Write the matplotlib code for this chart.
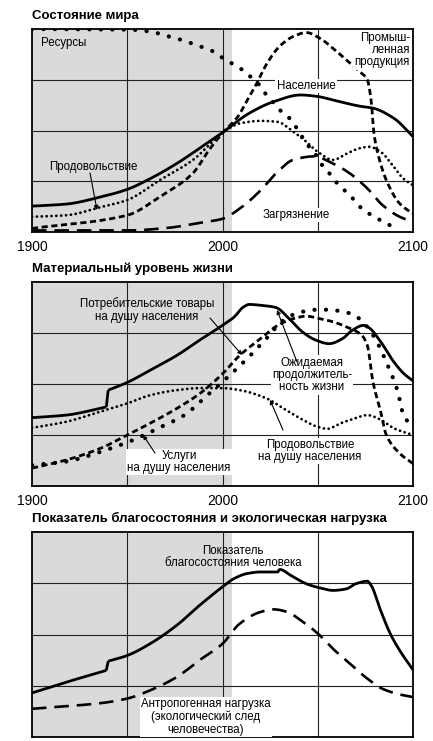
import matplotlib
matplotlib.use("Agg")
import matplotlib.pyplot as plt
import numpy as np

plt.rcParams['font.family'] = ['Liberation Sans', 'DejaVu Sans']

# ---------- Panel 1: State of the world ----------
pop_x = [1900, 1918, 1936, 1950, 1962, 1976, 1988, 2000, 2014, 2027, 2041, 2050, 2058, 2072, 2079, 2090, 2100]
pop_y = [0.51, 0.55, 0.69, 0.84, 1.05, 1.35, 1.65, 1.96, 2.34, 2.57, 2.70, 2.67, 2.60, 2.48, 2.44, 2.24, 1.88]

res_x = [1900, 1950, 1962, 1972, 1978, 1988, 1995, 2000, 2006, 2011, 2015, 2020, 2023, 2027, 2031, 2036, 2040,
         2044, 2049, 2053, 2057, 2061, 2066, 2070, 2074, 2080, 2086, 2091]
res_y = [4.00, 3.99, 3.95, 3.85, 3.79, 3.66, 3.56, 3.43, 3.30, 3.18, 3.05, 2.87, 2.70, 2.54, 2.37, 2.21, 1.98,
         1.75, 1.52, 1.28, 1.12, 0.92, 0.76, 0.59, 0.43, 0.30, 0.16, 0.10]

ind_x = [1900, 1950, 1967, 1984.5, 1993, 2000, 2008, 2013, 2018, 2023, 2030, 2037, 2044, 2051, 2058, 2065, 2072,
         2076, 2078, 2079.5, 2082, 2086, 2093, 2100]
ind_y = [0.07, 0.33, 0.69, 1.16, 1.62, 1.95, 2.27, 2.60, 2.93, 3.30, 3.66, 3.85, 3.93, 3.82, 3.62, 3.39, 3.16,
         3.00, 2.60, 1.94, 1.48, 1.02, 0.56, 0.36]

food_x = [1900, 1918, 1936, 1950, 1967, 1984.5, 2000, 2009, 2020, 2029, 2036, 2043, 2050, 2058, 2065, 2072,
          2077, 2083, 2090, 2095, 2100]
food_y = [0.30, 0.33, 0.49, 0.63, 1.02, 1.42, 1.95, 2.14, 2.19, 2.17, 2.01, 1.81, 1.58, 1.42, 1.54, 1.65,
          1.68, 1.58, 1.28, 1.05, 0.92]

pol_x = [1900, 1950, 1971, 1988, 2000, 2009, 2020, 2029, 2037, 2048, 2058, 2067, 2076, 2084, 2093, 2100]
pol_y = [0.03, 0.03, 0.08, 0.18, 0.26, 0.46, 0.82, 1.19, 1.42, 1.49, 1.35, 1.15, 0.86, 0.53, 0.30, 0.20]

# ---------- Panel 2: Material standard of living ----------
cg_x = [1900, 1918, 1939, 1940, 1950, 1962, 1976, 1988, 2000, 2006, 2011, 2014, 2021, 2028, 2035, 2042, 2049,
        2056, 2063, 2068, 2074, 2077, 2083, 2090, 2095, 2100]
cg_y = [1.34, 1.39, 1.55, 1.88, 2.03, 2.27, 2.56, 2.86, 3.15, 3.31, 3.51, 3.56, 3.54, 3.50, 3.28, 3.02, 2.86,
        2.79, 2.89, 3.05, 3.15, 3.10, 2.83, 2.43, 2.21, 2.06]

srv_x = [1900, 1918, 1936, 1950, 1962, 1976, 1988, 2000, 2009, 2020, 2029, 2037, 2044, 2051, 2058, 2065, 2073,
         2076, 2079, 2083, 2086, 2093, 2100]
srv_y = [0.35, 0.51, 0.74, 1.00, 1.23, 1.52, 1.81, 2.20, 2.56, 2.89, 3.15, 3.28, 3.33, 3.28, 3.22, 3.12, 2.96,
         2.76, 2.04, 1.46, 1.00, 0.64, 0.44]

life_x = [1900, 1918, 1936, 1953, 1966, 1980, 1992, 2002, 2013, 2023, 2032, 2041, 2051, 2062, 2069, 2076, 2081,
          2086, 2092, 2095, 2099]
life_y = [0.41, 0.48, 0.67, 0.90, 1.13, 1.39, 1.78, 2.11, 2.50, 2.89, 3.25, 3.41, 3.46, 3.43, 3.35, 3.12, 2.83,
          2.43, 1.85, 1.39, 1.19]

fpc_x = [1900, 1918, 1936, 1950, 1962, 1976, 1988, 2000, 2009, 2023, 2032, 2041, 2050, 2055, 2062, 2069, 2076,
         2083, 2090, 2100]
fpc_y = [1.14, 1.26, 1.46, 1.62, 1.78, 1.88, 1.92, 1.92, 1.88, 1.72, 1.52, 1.32, 1.16, 1.12, 1.23, 1.32, 1.39,
         1.30, 1.13, 1.00]

# ---------- Panel 3: Welfare and ecological footprint ----------
hw_x = [1900, 1918, 1939, 1940, 1950, 1962, 1976, 1988, 2000, 2006, 2013, 2020, 2029, 2030, 2036, 2044, 2051,
        2058, 2065, 2070, 2076, 2078, 2083, 2088, 2093, 2100]
hw_y = [0.86, 1.07, 1.30, 1.48, 1.59, 1.82, 2.18, 2.57, 2.93, 3.09, 3.19, 3.22, 3.22, 3.27, 3.15, 2.99, 2.91,
        2.86, 2.89, 2.99, 3.04, 2.96, 2.47, 2.02, 1.69, 1.31]

ef_x = [1900, 1918, 1936, 1950, 1962, 1976, 1988, 2000, 2009, 2020, 2027, 2034, 2041, 2050, 2058, 2067, 2076,
        2084, 2093, 2100]
ef_y = [0.55, 0.60, 0.66, 0.75, 0.91, 1.17, 1.50, 1.82, 2.21, 2.44, 2.49, 2.44, 2.28, 2.02, 1.72, 1.43, 1.14,
        0.94, 0.83, 0.78]

titles = ["Состояние мира", "Материальный уровень жизни",
          "Показатель благосостояния и экологическая нагрузка"]
tick_years = [1900, 2000, 2100]
tick_labels = ["1900", "2000", "2100"]

W, H = 433, 741
fig = plt.figure(figsize=(W / 100, H / 100), dpi=100)

def mk_axes(top, bottom):
    return fig.add_axes([32 / W, 1 - bottom / H, (413 - 32) / W, (bottom - top) / H])

axs = [mk_axes(29, 232), mk_axes(282, 486), mk_axes(532, 737)]

def smooth(x, y, n=500):
    x = np.asarray(x, float); y = np.asarray(y, float)
    xs = np.linspace(x[0], x[-1], n)
    h = np.diff(x); d = np.diff(y) / h
    m = np.zeros_like(y)
    m[0] = d[0]; m[-1] = d[-1]
    for i in range(1, len(y) - 1):
        if d[i - 1] * d[i] <= 0:
            m[i] = 0
        else:
            w1 = 2 * h[i] + h[i - 1]; w2 = h[i] + 2 * h[i - 1]
            m[i] = (w1 + w2) / (w1 / d[i - 1] + w2 / d[i])
    idx = np.clip(np.searchsorted(x, xs) - 1, 0, len(x) - 2)
    t = (xs - x[idx]) / h[idx]
    h00 = 2 * t**3 - 3 * t**2 + 1; h10 = t**3 - 2 * t**2 + t
    h01 = -2 * t**3 + 3 * t**2; h11 = t**3 - t**2
    ys = h00 * y[idx] + h10 * h[idx] * m[idx] + h01 * y[idx + 1] + h11 * h[idx] * m[idx + 1]
    return xs, ys

for i, ax in enumerate(axs):
    ax.set_xlim(1900, 2100)
    ax.set_ylim(0, 4)
    ax.axvspan(1900, 2005, color='#dadada', zorder=0, lw=0)
    for xv in [1950, 2000, 2050]:
        ax.axvline(xv, color='#222222', lw=0.8, zorder=1)
    for yv in [1, 2, 3]:
        ax.axhline(yv, color='#222222', lw=0.8, zorder=1)
    for s in ax.spines.values():
        s.set_linewidth(1.3)
        s.set_color('black')
    ax.set_yticks([])
    if i < 2:
        ax.set_xticks(tick_years)
        ax.set_xticklabels(tick_labels, fontsize=10)
        ax.tick_params(axis='x', length=0, pad=6)
    else:
        ax.set_xticks([])
    ax.text(0, 1.0 + 13 / 203, titles[i], transform=ax.transAxes, fontsize=9.5,
            fontweight='bold', ha='left', va='center')

SOLID = dict(color='black', lw=2.0, ls='-', solid_capstyle='butt')
SHORTDASH = dict(color='black', lw=2.0, ls=(0, (2.2, 1.3)))
LONGDASH = dict(color='black', lw=1.9, ls=(0, (5.5, 3.0)))
BIGDOT = dict(color='black', lw=3.0, ls=(0, (0.05, 2.7)), dash_capstyle='round')
SMALLDOT = dict(color='black', lw=2.0, ls=(0, (0.05, 1.7)), dash_capstyle='round')

def plot(ax, x, y, style):
    xs, ys = smooth(x, y)
    ax.plot(xs, ys, zorder=3, **style)

def plot_step(ax, x, y, style, jump):
    x = list(x); y = list(y)
    k = x.index(jump)
    plot(ax, x[:k], y[:k], style)
    ax.plot([x[k - 1], x[k]], [y[k - 1], y[k]], zorder=3, **style)
    plot(ax, x[k:], y[k:], style)

ax = axs[0]
plot(ax, res_x, res_y, BIGDOT)
plot(ax, ind_x, ind_y, SHORTDASH)
plot(ax, food_x, food_y, SMALLDOT)
plot(ax, pol_x, pol_y, LONGDASH)
plot(ax, pop_x, pop_y, SOLID)

ax = axs[1]
plot_step(ax, cg_x, cg_y, SOLID, 1940)
plot(ax, srv_x, srv_y, SHORTDASH)
plot(ax, life_x, life_y, BIGDOT)
plot(ax, fpc_x, fpc_y, SMALLDOT)

ax = axs[2]
plot_step(ax, hw_x, hw_y, SOLID, 1940)
plot(ax, ef_x, ef_y, LONGDASH)

FS = 8.3
BOX = dict(boxstyle='square,pad=0.1', fc='white', ec='none')
ARW = dict(arrowstyle='-|>', lw=0.8, color='black', mutation_scale=6, shrinkA=0, shrinkB=0)

def px2d(panel, x, y):
    tops = [29, 282, 532]; bots = [232, 486, 737]
    yr = 1900 + (x - 32) / (381 / 200)
    v = (bots[panel] - y) / ((bots[panel] - tops[panel]) / 4)
    return yr, v

def label(panel, x, y, txt, ha='center', box=True):
    X, Y = px2d(panel, x, y)
    axs[panel].text(X, Y, txt, fontsize=FS, ha=ha, va='center', zorder=5,
                    linespacing=1.05, multialignment='center' if ha == 'center' else ha,
                    bbox=BOX if box else None)

def arrow(panel, x0, y0, x1, y1):
    a = px2d(panel, x0, y0); b = px2d(panel, x1, y1)
    axs[panel].annotate('', xy=b, xytext=a, arrowprops=ARW, zorder=6)

# Panel 1 labels
label(0, 41, 43, "Ресурсы", ha='left', box=False)
label(0, 410, 50, "Промыш-\nленная\nпродукция", ha='right')
label(0, 306, 86, "Население")
label(0, 93, 167, "Продовольствие", box=False)
arrow(0, 90, 173, 97, 210)
label(0, 296, 215, "Загрязнение")

# Panel 2 labels
label(1, 147, 310, "Потребительские товары\nна душу населения", box=False)
arrow(1, 210, 318, 242, 355)
label(1, 312, 375, "Ожидаемая\nпродолжитель-\nность жизни")
arrow(1, 297, 362, 277, 310)
label(1, 179, 462, "Услуги\nна душу населения")
arrow(1, 155, 453, 143, 435)
label(1, 310, 451, "Продовольствие\nна душу населения")
arrow(1, 283, 430, 270, 400)

# Panel 3 labels
label(2, 233, 557, "Показатель\nблагосостояния человека", box=False)
label(2, 206, 717, "Антропогенная нагрузка\n(экологический след\nчеловечества)")

fig.savefig("out.png", dpi=100)
